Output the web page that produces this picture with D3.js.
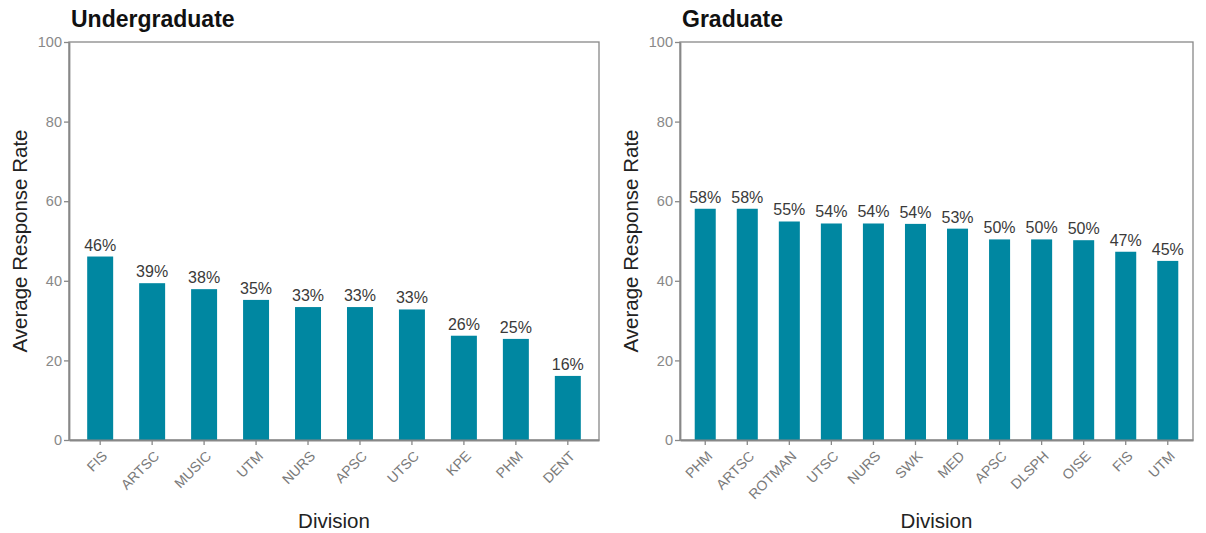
<!DOCTYPE html>
<html><head><meta charset="utf-8">
<script src="https://cdn.jsdelivr.net/npm/d3@7"></script>
<style>body{margin:0;background:#fff}svg{display:block;font-family:"Liberation Sans",Arial,sans-serif}</style>
</head><body><svg id="c" width="1206" height="533"></svg>
<script>
const ugCategories = ["FIS","ARTSC","MUSIC","UTM","NURS","APSC","UTSC","KPE","PHM","DENT"];
const ugValues = [46.1,39.4,37.9,35.2,33.4,33.4,32.8,26.2,25.4,16.1];
const gradCategories = ["PHM","ARTSC","ROTMAN","UTSC","NURS","SWK","MED","APSC","DLSPH","OISE","FIS","UTM"];
const gradValues = [58.1,58.1,54.9,54.4,54.4,54.3,53.1,50.4,50.4,50.2,47.3,45.0];
const yTicks = [0,20,40,60,80,100];
const panels = [
  {title:"Undergraduate", cats:ugCategories, vals:ugValues, x0:69, x1:599},
  {title:"Graduate", cats:gradCategories, vals:gradValues, x0:680, x1:1193}
];
const svg = d3.select("#c");
const plotTop = 42, plotBottom = 440;
const barColor = "#0087a1";
const y = d3.scaleLinear().domain([0,100]).range([plotBottom, plotTop]);
panels.forEach(p => {
  const g = svg.append("g");
  const x = d3.scaleBand().domain(p.cats).range([p.x0, p.x1]).paddingInner(0.5).paddingOuter(0.35);
  g.append("rect").attr("x", p.x0).attr("y", plotTop).attr("width", p.x1 - p.x0).attr("height", plotBottom - plotTop)
    .attr("fill","none").attr("stroke","#888").attr("stroke-width",1.3);
  g.selectAll("rect.bar").data(p.vals).join("rect").attr("class","bar")
    .attr("x",(d,i)=>x(p.cats[i])).attr("width",x.bandwidth())
    .attr("y",d=>y(d)).attr("height",d=>y(0)-y(d)).attr("fill",barColor);
  g.selectAll("text.val").data(p.vals).join("text").attr("class","val")
    .attr("x",(d,i)=>x(p.cats[i])+x.bandwidth()/2).attr("y",d=>y(d)-6)
    .attr("text-anchor","middle").attr("font-size",16).attr("fill","#3a3a3a")
    .text(d=>Math.round(d)+"%");
  const ya = g.append("g").attr("transform",`translate(${p.x0},0)`)
    .call(d3.axisLeft(y).tickValues(yTicks).tickSize(5).tickPadding(2).tickSizeOuter(0));
  ya.select(".domain").attr("stroke","#888").attr("stroke-width",1.8);
  ya.selectAll(".tick line").attr("stroke","#888").attr("stroke-width",1.3);
  ya.selectAll(".tick text").attr("font-size",14.5).attr("fill","#888").attr("font-family","Liberation Sans, Arial, sans-serif");
  const xa = g.append("g").attr("transform",`translate(0,${plotBottom})`)
    .call(d3.axisBottom(x).tickSize(5).tickSizeOuter(0));
  xa.select(".domain").attr("stroke","#888").attr("stroke-width",1.8);
  xa.selectAll(".tick line").attr("stroke","#888").attr("stroke-width",1.3);
  xa.selectAll(".tick text").attr("font-size",14).attr("fill","#7a7a7a").attr("font-family","Liberation Sans, Arial, sans-serif")
    .attr("text-anchor","end").attr("dy",0).attr("y",0)
    .attr("transform","translate(8,17) rotate(-45)");
  g.append("text").attr("x",p.x0+2).attr("y",27).attr("font-size",23).attr("font-weight","bold").attr("fill","#111").text(p.title);
  g.append("text").attr("x",(p.x0+p.x1)/2).attr("y",528).attr("text-anchor","middle").attr("font-size",20.5).attr("fill","#222").text("Division");
  g.append("text").attr("transform",`translate(${p.x0-42},${(plotTop+plotBottom)/2}) rotate(-90)`).attr("text-anchor","middle")
    .attr("font-size",20.5).attr("fill","#222").text("Average Response Rate");
});
</script></body></html>
